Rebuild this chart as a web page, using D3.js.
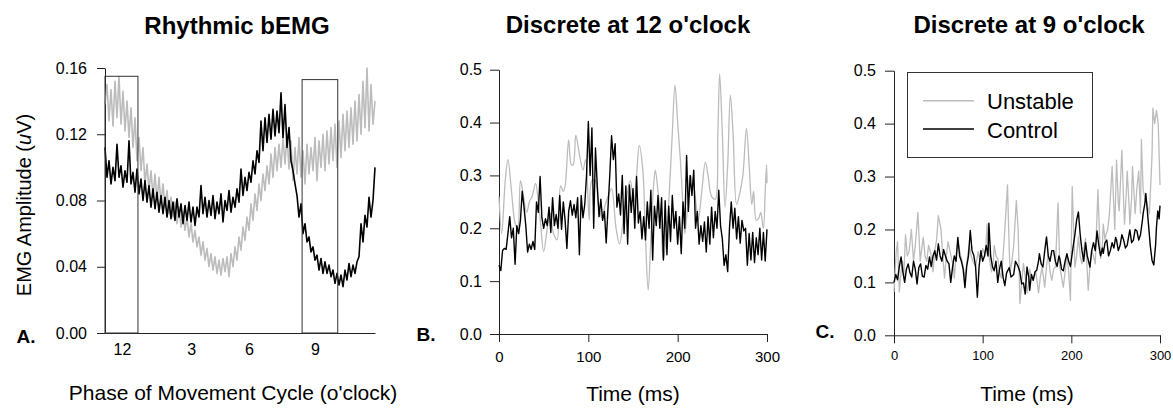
<!DOCTYPE html>
<html>
<head>
<meta charset="utf-8">
<script src="https://cdn.jsdelivr.net/npm/d3@7"></script>
<style>
  body { margin: 0; background: #fff; }
  svg text { font-family: "Liberation Sans", Arial, Helvetica, sans-serif; fill: #000; }
  .domain, .tick line { stroke: #222; }
</style>
</head>
<body>
<div id="chart"></div>
<script>
// Panel A - rhythmic bEMG, phase of movement cycle (0-100 % of the cycle)
const phaseTicks = [6.3, 31.9, 53.3, 77.8];
const phaseLabels = ["12", "3", "6", "9"];
const window12 = { from: 0, to: 12.2, top: 0.155 };
const window9 = { from: 73.0, to: 86.2, top: 0.153 };

const rhythmicControl = [
  0.112,0.094,0.104,0.090,0.100,0.092,0.114,0.094,0.101,0.088,0.098,0.091,0.116,0.090,0.097,0.085,
  0.099,0.084,0.093,0.080,0.092,0.079,0.089,0.076,0.087,0.075,0.085,0.073,0.083,0.072,0.082,0.070,
  0.080,0.069,0.079,0.068,0.081,0.070,0.078,0.066,0.077,0.068,0.079,0.067,0.076,0.065,0.076,0.070,
  0.089,0.072,0.082,0.070,0.080,0.071,0.083,0.069,0.079,0.072,0.084,0.067,0.080,0.074,0.086,0.073,
  0.082,0.076,0.087,0.079,0.099,0.083,0.094,0.086,0.097,0.091,0.104,0.096,0.110,0.103,0.128,0.110,
  0.130,0.115,0.132,0.117,0.135,0.119,0.134,0.121,0.145,0.118,0.138,0.112,0.124,0.104,0.098,0.090,
  0.083,0.070,0.078,0.060,0.066,0.055,0.058,0.049,0.052,0.044,0.047,0.038,0.045,0.036,0.043,0.036,
  0.041,0.034,0.038,0.030,0.036,0.029,0.035,0.028,0.038,0.032,0.042,0.034,0.041,0.036,0.043,0.046,
  0.066,0.055,0.071,0.064,0.082,0.070,0.080,0.100
];
const rhythmicUnstable = [
  0.138,0.150,0.128,0.147,0.125,0.152,0.130,0.155,0.126,0.146,0.122,0.140,0.118,0.136,0.112,0.130,
  0.104,0.118,0.098,0.112,0.090,0.102,0.086,0.098,0.082,0.096,0.080,0.094,0.078,0.090,0.076,0.086,
  0.072,0.082,0.070,0.079,0.066,0.076,0.064,0.073,0.062,0.070,0.058,0.066,0.055,0.062,0.052,0.058,
  0.047,0.055,0.044,0.051,0.040,0.048,0.038,0.046,0.036,0.044,0.035,0.045,0.037,0.046,0.034,0.048,
  0.040,0.052,0.044,0.058,0.050,0.064,0.056,0.070,0.062,0.078,0.068,0.084,0.074,0.090,0.080,0.096,
  0.086,0.101,0.090,0.108,0.094,0.112,0.098,0.114,0.100,0.118,0.102,0.120,0.099,0.116,0.092,0.112,
  0.096,0.118,0.094,0.110,0.090,0.114,0.096,0.112,0.098,0.118,0.092,0.116,0.100,0.120,0.098,0.122,
  0.102,0.124,0.104,0.126,0.100,0.128,0.106,0.132,0.110,0.134,0.112,0.136,0.114,0.140,0.116,0.144,
  0.120,0.152,0.124,0.160,0.122,0.150,0.126,0.140
];

// Panel B - discrete at 12 o'clock (control sampled every 2 ms)
const controlB = [
  0.130,0.120,0.158,0.162,0.160,0.190,0.222,0.182,0.200,0.132,0.205,0.190,0.215,0.270,0.240,0.205,
  0.155,0.170,0.160,0.175,0.160,0.250,0.230,0.298,0.220,0.200,0.218,0.205,0.240,0.192,0.258,0.205,
  0.226,0.200,0.262,0.198,0.250,0.215,0.162,0.232,0.252,0.225,0.245,0.220,0.258,0.150,0.262,0.220,
  0.245,0.300,0.402,0.300,0.390,0.200,0.352,0.280,0.222,0.255,0.215,0.232,0.172,0.238,0.300,0.375,
  0.330,0.360,0.240,0.265,0.225,0.300,0.190,0.280,0.170,0.282,0.230,0.275,0.200,0.298,0.210,0.232,
  0.180,0.222,0.178,0.250,0.200,0.272,0.140,0.242,0.205,0.262,0.200,0.258,0.140,0.252,0.150,0.242,
  0.175,0.262,0.200,0.232,0.170,0.222,0.152,0.250,0.200,0.338,0.232,0.300,0.262,0.310,0.200,0.232,
  0.170,0.205,0.175,0.212,0.155,0.222,0.170,0.240,0.182,0.232,0.200,0.272,0.205,0.180,0.130,0.150,
  0.118,0.200,0.250,0.200,0.238,0.180,0.222,0.172,0.215,0.195,0.200,0.130,0.190,0.140,0.192,0.135,
  0.182,0.150,0.200,0.140,0.192,0.138,0.198
];
const unstableBTime = [
  0,3,7,10,14,18,21,24,27,31,34,37,41,44,46,50,54,57,61,65,69,72,74,78,81,83,86,90,94,97,101,104,
  108,111,115,119,123,126,131,135,139,143,147,151,154,157,161,164,167,170,173,175,178,181,184,188,
  191,194,197,200,203,206,208,211,214,218,221,223,227,231,234,238,242,245,247,250,253,256,259,262,
  266,270,273,277,280,283,285,288,291,293,296,298,299.5,300
];
const unstableB = [
  0.26,0.19,0.29,0.33,0.27,0.21,0.20,0.29,0.265,0.23,0.25,0.26,0.285,0.25,0.22,0.156,0.20,0.23,
  0.19,0.178,0.28,0.27,0.28,0.367,0.32,0.32,0.376,0.34,0.31,0.33,0.215,0.29,0.29,0.25,0.22,0.245,
  0.265,0.275,0.20,0.17,0.215,0.26,0.29,0.25,0.30,0.357,0.31,0.18,0.083,0.18,0.28,0.31,0.27,0.22,
  0.14,0.20,0.28,0.38,0.471,0.40,0.33,0.24,0.19,0.24,0.30,0.28,0.24,0.215,0.27,0.325,0.30,0.26,
  0.255,0.38,0.492,0.38,0.24,0.32,0.452,0.38,0.245,0.27,0.30,0.389,0.32,0.245,0.27,0.215,0.22,
  0.23,0.20,0.27,0.32,0.285
];

// Panel C - discrete at 9 o'clock
const controlCTime = [
  0,2,4,6,8,10,12,14,16,18,20,22,24,26,28,30,32,34,36,38,40,42,44,46,48,50,52,54,56,58,60,62,64,66,
  68,70,72,74,76,78,80,82,84,86,88,90,92,94,96,98,100,102,104,106,107,109,111,113,115,117,119,121,
  123,125,127,130,132,135,137,140,142,144,146,148,150,152,153,155,157,159,161,163,164,166,168,170,
  172,174,176,178,180,182,184,186,187,189,191,193,195,197,199,202,204,206,208,210,212,214,216,218,
  221,223,225,227,229,231,233,235,236,238,240,242,244,246,248,250,251,253,255,257,259,261,263,265,
  266,268,270,272,274,276,278,280,281,283,284,286,287,289,291,293,295,296,297.5,299,300
];
const controlC = [
  0.100,0.115,0.105,0.130,0.148,0.120,0.100,0.125,0.135,0.118,0.110,0.140,0.125,0.097,0.128,0.135,
  0.112,0.110,0.132,0.125,0.148,0.130,0.150,0.160,0.142,0.173,0.150,0.140,0.162,0.150,0.140,0.135,
  0.100,0.128,0.150,0.140,0.185,0.150,0.140,0.125,0.090,0.130,0.150,0.198,0.160,0.151,0.130,0.072,
  0.130,0.160,0.140,0.150,0.170,0.150,0.212,0.150,0.130,0.122,0.140,0.100,0.125,0.140,0.110,0.094,
  0.118,0.128,0.110,0.115,0.140,0.130,0.120,0.097,0.099,0.078,0.129,0.110,0.085,0.115,0.104,0.120,
  0.123,0.140,0.154,0.135,0.129,0.160,0.186,0.150,0.140,0.160,0.160,0.140,0.130,0.150,0.145,0.125,
  0.122,0.140,0.154,0.140,0.130,0.167,0.190,0.218,0.233,0.190,0.160,0.140,0.175,0.150,0.129,0.160,
  0.175,0.160,0.197,0.170,0.150,0.165,0.155,0.175,0.180,0.150,0.160,0.175,0.165,0.185,0.180,0.160,
  0.170,0.190,0.180,0.165,0.170,0.190,0.199,0.175,0.180,0.200,0.197,0.180,0.190,0.215,0.230,0.250,
  0.268,0.230,0.210,0.170,0.142,0.133,0.170,0.204,0.235,0.220,0.245
];
const unstableCTime = [
  0,2.5,4,6,8,9.5,11,13,15,17,19.6,22,24,27,29.5,31,33,35,37,39,41,43,44,46,48,50,53,55,57,59,61,
  63,65,67,68,70,72,74,76,78,80,83,85,87,89,92,95,97,100,103,105,107,110,112,113,115,117,119,121,
  123,125,128,130,131,133,135,138,140,142,144,146,148,150,152,153,155,157,160,163,165,167,170,172,
  174,176,178,180,182,185,187,189,191,193,195,197,199,201,204,206,208,210,212,214,216,218,219,221,
  223,225,227,230,232,233,235,236,238,239,241,243,246,248,249,251,253,254,257,259,260,262,263,265,
  266,268,269,271,272,274,276,278,279,281,283,285,288,290,291,292,294,296,298,299,300
];
const unstableC = [
  0.082,0.158,0.177,0.082,0.120,0.140,0.110,0.190,0.150,0.158,0.200,0.140,0.170,0.232,0.140,0.160,
  0.185,0.150,0.140,0.170,0.158,0.140,0.120,0.160,0.180,0.226,0.200,0.150,0.108,0.150,0.177,0.160,
  0.145,0.130,0.108,0.150,0.178,0.160,0.145,0.130,0.108,0.150,0.170,0.150,0.140,0.130,0.158,0.140,
  0.164,0.150,0.210,0.150,0.120,0.140,0.170,0.150,0.145,0.120,0.108,0.150,0.200,0.284,0.160,0.120,
  0.140,0.170,0.255,0.200,0.060,0.100,0.136,0.110,0.080,0.100,0.125,0.110,0.104,0.120,0.080,0.110,
  0.129,0.091,0.130,0.154,0.120,0.104,0.125,0.129,0.250,0.129,0.110,0.091,0.120,0.154,0.120,0.066,
  0.281,0.129,0.150,0.186,0.150,0.135,0.160,0.183,0.120,0.085,0.130,0.160,0.150,0.135,0.275,0.180,
  0.145,0.170,0.210,0.180,0.190,0.200,0.230,0.319,0.240,0.200,0.331,0.250,0.235,0.350,0.250,0.210,
  0.270,0.310,0.250,0.210,0.260,0.319,0.260,0.230,0.280,0.310,0.230,0.370,0.275,0.260,0.250,0.230,
  0.300,0.340,0.429,0.400,0.425,0.400,0.343,0.284
];

const legendLabels = ["Unstable", "Control"];
const grey = "#bcbcbc";

const W = 1173, H = 409;
const svg = d3.select("#chart").append("svg")
    .attr("width", W)
    .attr("height", H);

const zip = (xs, ys) => ys.map((v, i) => [xs[i], v]);
const byIndex = (vals, step) => vals.map((v, i) => [i * step, v]);

function drawLine(g, pts, x, y, color, width, curve) {
    g.append("path")
        .datum(pts)
        .attr("fill", "none")
        .attr("stroke", color)
        .attr("stroke-width", width)
        .attr("stroke-linejoin", "round")
        .attr("d", d3.line().x(d => x(d[0])).y(d => y(d[1])).curve(curve || d3.curveLinear));
}

function text(g, x, y, s, size, opts) {
    const t = g.append("text")
        .attr("x", x).attr("y", y)
        .attr("text-anchor", (opts && opts.anchor) || "middle")
        .style("font-size", size + "px")
        .text(s);
    if (opts && opts.bold) t.style("font-weight", "bold");
    return t;
}

// ---------- Panel A ----------
const xA = d3.scaleLinear().domain([0, 100]).range([105, 375]);
const yA = d3.scaleLinear().domain([0, 0.16]).range([333, 68]);
const gA = svg.append("g");

gA.append("g")
    .attr("transform", "translate(0,333)")
    .call(d3.axisBottom(xA).tickValues(phaseTicks).tickFormat((d, i) => phaseLabels[i])
        .tickSize(0).tickPadding(11))
    .call(g => g.selectAll("text").style("font-size", "16px"));

gA.append("g")
    .attr("transform", "translate(105,0)")
    .call(d3.axisLeft(yA).tickValues([0, 0.04, 0.08, 0.12, 0.16]).tickFormat(d3.format(".2f"))
        .tickSize(8).tickSizeOuter(0).tickPadding(10))
    .call(g => g.selectAll("text").style("font-size", "16px"));

drawLine(gA, byIndex(rhythmicUnstable, 100 / (rhythmicUnstable.length - 1)), xA, yA, grey, 1.6);
drawLine(gA, byIndex(rhythmicControl, 100 / (rhythmicControl.length - 1)), xA, yA, "#000", 1.6);

[window12, window9].forEach(w => {
    gA.append("rect")
        .attr("x", xA(w.from))
        .attr("y", yA(w.top))
        .attr("width", xA(w.to) - xA(w.from))
        .attr("height", yA(0) - yA(w.top))
        .attr("fill", "none")
        .attr("stroke", "#333")
        .attr("stroke-width", 1);
});

text(gA, 237, 34, "Rhythmic bEMG", 24, { bold: true });
text(gA, 233, 400, "Phase of Movement Cycle (o'clock)", 21);
text(gA, 26, 343, "A.", 19, { bold: true });
const yl = gA.append("text")
    .attr("transform", "translate(31,205) rotate(-90)")
    .attr("text-anchor", "middle")
    .style("font-size", "20px");
yl.append("tspan").text("EMG Amplitude (");
yl.append("tspan").style("font-style", "italic").text("u");
yl.append("tspan").text("V)");

// ---------- Panel B ----------
const xB = d3.scaleLinear().domain([0, 300]).range([499, 767]);
const yB = d3.scaleLinear().domain([0, 0.5]).range([334, 69.7]);
const gB = svg.append("g");

gB.append("g")
    .attr("transform", "translate(0,334)")
    .call(d3.axisBottom(xB).tickValues([0, 100, 200, 300]).tickSize(8).tickSizeOuter(0).tickPadding(9))
    .call(g => g.selectAll("text").style("font-size", "15px"));
gB.append("g")
    .attr("transform", "translate(499,0)")
    .call(d3.axisLeft(yB).ticks(5).tickFormat(d3.format(".1f")).tickSize(9).tickSizeOuter(0).tickPadding(8))
    .call(g => g.selectAll("text").style("font-size", "16px"));

drawLine(gB, zip(unstableBTime, unstableB), xB, yB, grey, 1.3, d3.curveCatmullRom);
drawLine(gB, byIndex(controlB, 2), xB, yB, "#000", 1.4);

text(gB, 628, 33, "Discrete at 12 o'clock", 24, { bold: true });
text(gB, 633, 401, "Time (ms)", 21);
text(gB, 426, 341, "B.", 19, { bold: true });

// ---------- Panel C ----------
const xC = d3.scaleLinear().domain([0, 300]).range([894, 1160]);
const yC = d3.scaleLinear().domain([0, 0.5]).range([335.3, 70.7]);
const gC = svg.append("g");

gC.append("g")
    .attr("transform", "translate(0,335.3)")
    .call(d3.axisBottom(xC).tickValues([0, 100, 200, 300]).tickSize(8).tickSizeOuter(0).tickPadding(7))
    .call(g => g.selectAll("text").style("font-size", "13px"));
gC.append("g")
    .attr("transform", "translate(894,0)")
    .call(d3.axisLeft(yC).ticks(5).tickFormat(d3.format(".1f")).tickSize(9).tickSizeOuter(0).tickPadding(9))
    .call(g => g.selectAll("text").style("font-size", "16px"));

drawLine(gC, zip(unstableCTime, unstableC), xC, yC, grey, 1.3);
drawLine(gC, zip(controlCTime, controlC), xC, yC, "#000", 1.4);

text(gC, 1029, 33, "Discrete at 9 o'clock", 24, { bold: true });
text(gC, 1027, 401, "Time (ms)", 21);
text(gC, 825, 338, "C.", 19, { bold: true });

// legend
const leg = gC.append("g");
leg.append("rect")
    .attr("x", 907.5).attr("y", 72.5)
    .attr("width", 185).attr("height", 85)
    .attr("fill", "#fff")
    .attr("stroke", "#333");
legendLabels.forEach((lab, i) => {
    const yy = 100.7 + i * 28.3;
    leg.append("line")
        .attr("x1", 923).attr("x2", 974)
        .attr("y1", yy).attr("y2", yy)
        .attr("stroke", i === 0 ? grey : "#000")
        .attr("stroke-width", 1.4);
    text(leg, 987, yy + 8.5, lab, 22, { anchor: "start" });
});
</script>
</body>
</html>
